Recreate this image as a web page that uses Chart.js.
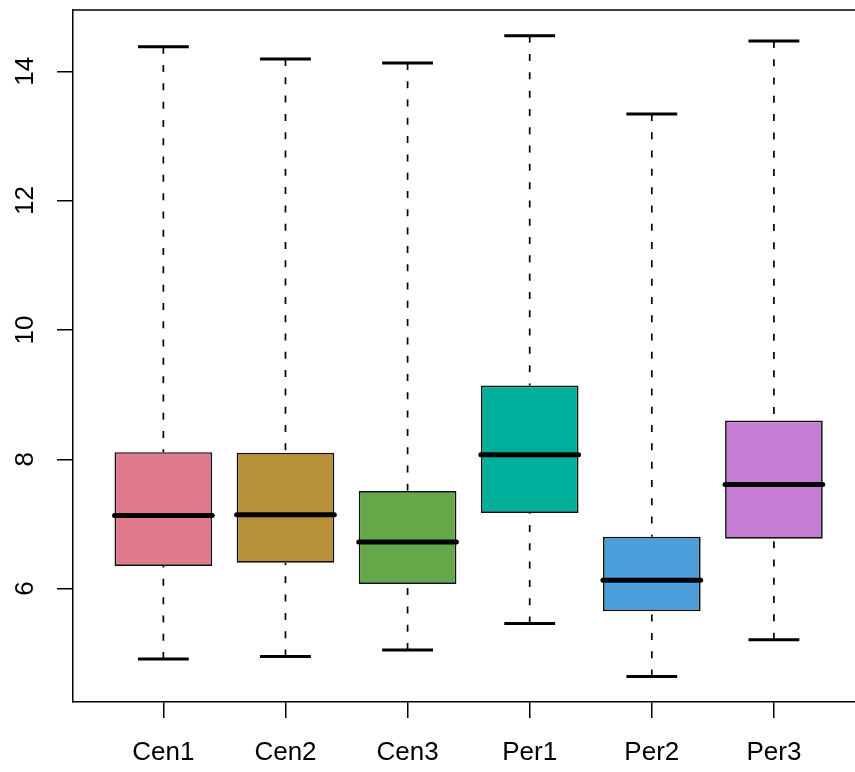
<!DOCTYPE html>
<html>
<head>
<meta charset="utf-8">
<script src="https://cdn.jsdelivr.net/npm/chart.js@4/dist/chart.umd.min.js"></script>
<style>
  html, body { margin: 0; padding: 0; background: #ffffff; }
  #box { display: block; }
</style>
</head>
<body>
<canvas id="box" width="855" height="772"></canvas>
<script>
// Five-number summaries per group
const categories  = ['Cen1', 'Cen2', 'Cen3', 'Per1', 'Per2', 'Per3'];
const whiskerLow  = [4.91, 4.95, 5.05, 5.46, 4.64, 5.21];
const lowerQuart  = [6.35, 6.40, 6.07, 7.17, 5.65, 6.77];
const medians     = [7.13, 7.14, 6.72, 8.07, 6.13, 7.61];
const upperQuart  = [8.11, 8.10, 7.51, 9.14, 6.80, 8.60];
const whiskerHigh = [14.38, 14.19, 14.13, 14.55, 13.34, 14.47];
const yTicks      = [6, 8, 10, 12, 14];
const boxColors   = ['#E27A8E', '#B89038', '#65A84A', '#00AF9C', '#4C9EDA', '#C67ED5'];

const FONT = "'Liberation Sans', Arial, sans-serif";

// Whiskers, staples, medians and the top frame line
const boxExtras = {
  id: 'boxExtras',
  beforeDatasetsDraw(chart) {
    const { ctx, scales: { x, y } } = chart;
    ctx.save();
    ctx.strokeStyle = '#000';
    ctx.lineWidth = 1.7;
    ctx.setLineDash([7, 11.3]);
    categories.forEach((c, i) => {
      const px = x.getPixelForValue(i + 1);
      ctx.beginPath();
      ctx.moveTo(px, y.getPixelForValue(whiskerHigh[i]));
      ctx.lineTo(px, y.getPixelForValue(upperQuart[i]));
      ctx.moveTo(px, y.getPixelForValue(whiskerLow[i]));
      ctx.lineTo(px, y.getPixelForValue(lowerQuart[i]));
      ctx.stroke();
    });
    ctx.restore();
  },
  afterDatasetsDraw(chart) {
    const { ctx, chartArea, scales: { x, y } } = chart;
    const meta = chart.getDatasetMeta(0);
    ctx.save();
    ctx.strokeStyle = '#000';
    categories.forEach((c, i) => {
      const px = x.getPixelForValue(i + 1);
      const half = meta.data[i].width / 2;
      // staples
      ctx.lineWidth = 3;
      ctx.lineCap = 'butt';
      ctx.beginPath();
      [whiskerHigh[i], whiskerLow[i]].forEach(v => {
        const py = y.getPixelForValue(v);
        ctx.moveTo(px - half / 2 - 1, py);
        ctx.lineTo(px + half / 2 + 1, py);
      });
      ctx.stroke();
      // median
      ctx.lineWidth = 5;
      ctx.lineCap = 'round';
      ctx.beginPath();
      const my = y.getPixelForValue(medians[i]);
      ctx.moveTo(px - half, my);
      ctx.lineTo(px + half, my);
      ctx.stroke();
    });
    // top frame line
    ctx.lineWidth = 1.5;
    ctx.lineCap = 'butt';
    ctx.beginPath();
    ctx.moveTo(chartArea.left, chartArea.top);
    ctx.lineTo(chartArea.right, chartArea.top);
    ctx.stroke();
    ctx.restore();
  }
};

new Chart(document.getElementById('box'), {
  type: 'bar',
  data: {
    datasets: [{
      data: categories.map((c, i) => ({ x: i + 1, y: [lowerQuart[i], upperQuart[i]] })),
      backgroundColor: boxColors,
      borderColor: '#111',
      borderWidth: 1.7,
      borderSkipped: false,
      categoryPercentage: 0.8,
      barPercentage: 1.0
    }]
  },
  options: {
    responsive: false,
    animation: false,
    devicePixelRatio: 1,
    layout: { padding: { top: 10, left: 0, right: 0, bottom: 0 } },
    plugins: { legend: { display: false }, tooltip: { enabled: false } },
    scales: {
      x: {
        type: 'linear',
        offset: false,
        min: 0.26,
        max: 6.664,
        afterBuildTicks: s => { s.ticks = categories.map((c, i) => ({ value: i + 1 })); },
        afterFit: s => { s.height = 70; s.paddingLeft = 0; s.paddingRight = 0; },
        grid: { display: true, offset: false, drawOnChartArea: false, drawTicks: true, tickLength: 16, color: '#000', lineWidth: 1.5 },
        border: { display: true, color: '#000', width: 1.5 },
        ticks: {
          autoSkip: false,
          maxRotation: 0,
          padding: 19,
          color: '#000',
          font: { family: FONT, size: 26 },
          callback: v => categories[Math.round(v) - 1] || ''
        }
      },
      y: {
        type: 'linear',
        min: 4.246,
        max: 14.948,
        afterBuildTicks: s => { s.ticks = yTicks.map(v => ({ value: v })); },
        afterFit: s => { s.width = 73; s.paddingTop = 0; s.paddingBottom = 0; },
        grid: { display: true, drawOnChartArea: false, drawTicks: true, tickLength: 16, color: '#000', lineWidth: 1.5 },
        border: { display: true, color: '#000', width: 1.5 },
        ticks: {
          minRotation: 90,
          maxRotation: 90,
          crossAlign: 'center',
          padding: 17,
          color: '#000',
          font: { family: FONT, size: 26 },
          callback: v => String(v)
        }
      }
    }
  },
  plugins: [boxExtras]
});
</script>
</body>
</html>
